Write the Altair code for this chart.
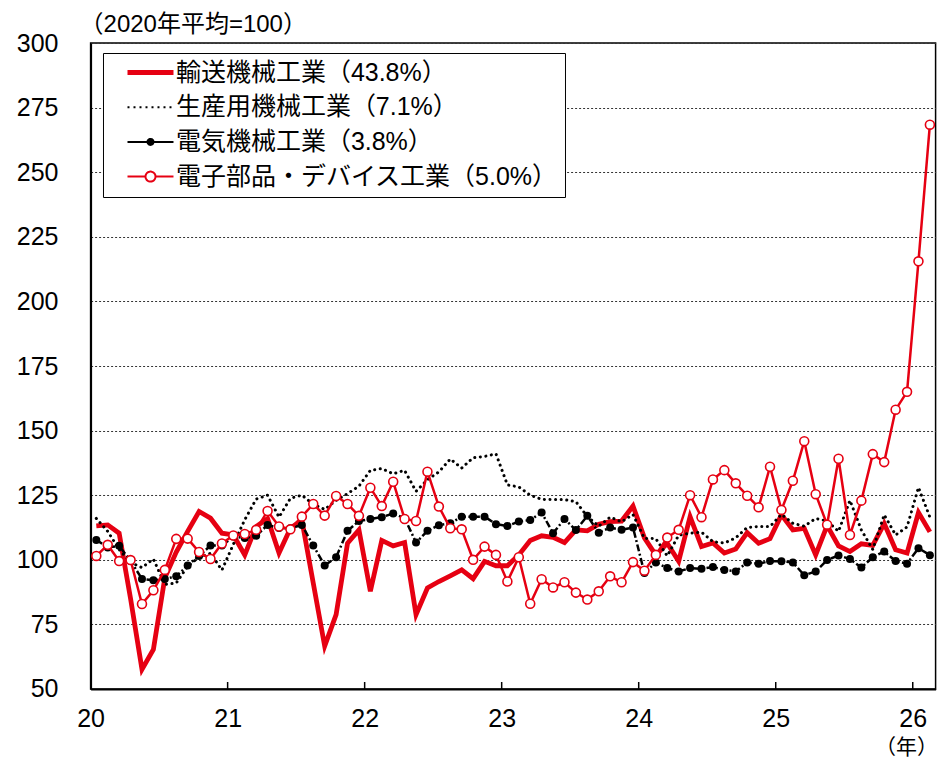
import altair as alt
import pandas as pd

# ---------------- data ----------------
YEARS = ["20", "21", "22", "23", "24", "25", "26"]
Y_TICKS = [50, 75, 100, 125, 150, 175, 200, 225, 250, 275, 300]
YEAR_BOUNDS = [12, 24, 36, 48, 60, 72]
SERIES = ["輸送機械工業（43.8%）", "生産用機械工業（7.1%）",
          "電気機械工業（3.8%）", "電子部品・デバイス工業（5.0%）"]

TRANSPORT = [
    113.1, 113.5, 110.3, 85.0, 57.6, 65.3, 93.0, 103.0, 111.0, 118.7, 116.1, 110.3,
    109.6, 101.9, 112.9, 116.0, 102.6, 112.2, 115.4, 91.0, 66.6, 78.8, 106.4, 111.6,
    87.8, 107.5, 105.4, 106.7, 78.8, 89.1, 91.6, 93.8, 96.1, 92.7, 99.4, 97.7,
    97.7, 101.9, 107.5, 109.3, 108.7, 106.7, 111.6, 111.2, 113.8, 114.8, 115.0, 120.8,
    108.5, 101.8, 106.4, 99.4, 116.7, 105.1, 106.5, 102.6, 104.2, 110.5, 106.4, 108.2,
    117.4, 111.6, 112.2, 101.9, 113.2, 105.4, 103.2, 106.2, 105.6, 114.0, 103.9, 102.6,
    118.3, 110.8,
]
PRODUCTION = [
    116.0, 111.0, 104.0, 99.0, 97.0, 100.3, 90.5, 91.0, 97.5, 101.0, 102.5, 96.0,
    106.0, 115.5, 123.5, 125.0, 116.5, 123.8, 125.0, 121.5, 119.5, 123.0, 125.6, 128.5,
    134.6, 135.3, 133.3, 134.6, 126.5, 131.0, 134.0, 139.0, 135.5, 139.5, 140.0, 141.0,
    129.0, 128.2, 125.0, 123.4, 123.3, 123.3, 122.5, 116.8, 113.0, 116.5, 114.7, 117.5,
    108.3, 108.2, 101.5, 109.5, 110.3, 110.7, 107.0, 106.5, 108.5, 112.5, 112.9, 112.9,
    117.6, 114.1, 113.0, 116.0, 115.0, 111.0, 123.0, 111.5, 104.0, 117.4, 109.6, 112.7,
    128.0, 116.5,
]
ELECTRICAL = [
    107.7, 104.8, 105.4, 99.6, 92.6, 92.1, 92.6, 93.6, 97.8, 101.5, 105.5, 105.5,
    109.0, 108.4, 109.3, 113.5, 112.3, 112.2, 113.5, 105.5, 97.8, 101.0, 111.2, 115.0,
    115.8, 116.5, 117.9, 116.1, 106.7, 111.2, 113.4, 114.1, 116.7, 116.7, 116.7, 113.8,
    113.1, 114.8, 115.4, 118.3, 110.3, 115.8, 111.5, 117.0, 110.5, 112.5, 111.6, 112.5,
    94.9, 99.0, 96.8, 95.5, 96.8, 96.5, 97.2, 96.1, 95.5, 99.0, 98.5, 99.5,
    99.4, 99.0, 94.0, 95.5, 99.9, 101.7, 100.3, 97.0, 101.0, 103.2, 99.5, 98.5,
    104.5, 101.8,
]
ELECTRONICS = [
    101.5, 105.8, 99.5, 99.9, 82.9, 88.2, 96.1, 108.1, 108.2, 103.0, 100.3, 106.3,
    109.4, 110.0, 111.6, 118.9, 112.9, 111.8, 116.7, 121.6, 117.1, 124.7, 121.6, 117.0,
    127.9, 120.8, 130.2, 115.8, 115.0, 134.1, 120.6, 112.2, 111.8, 100.0, 105.1, 101.9,
    91.6, 101.0, 83.0, 92.5, 89.3, 91.3, 87.3, 84.6, 87.8, 93.6, 91.3, 99.1,
    95.8, 101.9, 108.6, 111.6, 125.0, 116.5, 131.1, 134.7, 129.6, 124.8, 120.3, 136.0,
    119.3, 130.6, 145.9, 125.4, 113.6, 139.1, 109.6, 122.9, 140.9, 137.8, 158.1, 165.0,
    215.5, 268.4,
]

# ---------------- styling ----------------
RED = "#e60012"
FONT = "Liberation Sans, Noto Sans CJK JP"
W, H = 845, 646

# month index -> centre of month slot
MONTHS = [i + 0.5 for i in range(len(TRANSPORT))]


def frame(values):
    return pd.DataFrame({"m": MONTHS, "v": values})


x_enc = alt.X(
    "m:Q",
    scale=alt.Scale(domain=[0, len(TRANSPORT)], nice=False, zero=False),
    axis=alt.Axis(
        values=[0] + YEAR_BOUNDS,
        labelExpr=f"{YEARS}[round(datum.value / 12)]",
        labelFont=FONT, labelFontSize=25, labelColor="black",
        labelPadding=18, labelFlush=False, labelOverlap=False,
        ticks=False, tickSize=0, grid=False,
        domainColor="black", domainWidth=2,
        title="（年）", titleFont=FONT, titleFontSize=21,
        titleFontWeight="normal", titleColor="black",
        titleX=815.5, titleY=65, titleAlign="center", titleBaseline="alphabetic",
    ),
)
y_enc = alt.Y(
    "v:Q",
    scale=alt.Scale(domain=[50, 300], nice=False, zero=False),
    axis=alt.Axis(
        values=Y_TICKS,
        labelFont=FONT, labelFontSize=25, labelColor="black",
        labelPadding=32.6, labelFlush=False,
        ticks=False, tickSize=0,
        grid=True, gridColor="#333333", gridDash=[2, 2], gridWidth=1,
        domainColor="black", domainWidth=2, title=None,
    ),
)

l_transport = alt.Chart(frame(TRANSPORT)).mark_line(
    color=RED, strokeWidth=4.8
).encode(x=x_enc, y=y_enc)

l_prod = alt.Chart(frame(PRODUCTION)).mark_line(
    color="black", strokeWidth=3, strokeDash=[0.1, 5.5], strokeCap="round"
).encode(x=x_enc, y=y_enc)

l_elec = alt.Chart(frame(ELECTRICAL)).mark_line(
    color="black", strokeWidth=2.5, strokeDash=[7, 2.5, 2, 2.5]
).encode(x=x_enc, y=y_enc)
p_elec = alt.Chart(frame(ELECTRICAL)).mark_circle(
    color="black", size=64, opacity=1
).encode(x=x_enc, y=y_enc)

l_chip = alt.Chart(frame(ELECTRONICS)).mark_line(
    color=RED, strokeWidth=2.5
).encode(x=x_enc, y=y_enc)
p_chip = alt.Chart(frame(ELECTRONICS)).mark_circle(
    fill="white", stroke=RED, strokeWidth=1.6, size=80, opacity=1
).encode(x=x_enc, y=y_enc)

# inward year ticks on the bottom axis
year_ticks = alt.Chart(pd.DataFrame({"m": YEAR_BOUNDS})).mark_rule(
    color="black", strokeWidth=1.5
).encode(x=x_enc, y=alt.value(H - 7), y2=alt.value(H))

# legend (symbols drawn by the legend itself)
SHAPES = [
    "M-2.3,-0.15L2.3,-0.15M-2.3,0L2.3,0M-2.3,0.15L2.3,0.15",
    "M-2.3,0L2.3,0",
    "M-2.3,0L2.3,0M0.3,0A0.3,0.3,0,1,1,-0.3,0A0.3,0.3,0,1,1,0.3,0"
    "M0.13,0A0.13,0.13,0,1,1,-0.13,0A0.13,0.13,0,1,1,0.13,0",
    "M-2.3,0L-0.5,0M0.5,0L2.3,0M0.5,0A0.5,0.5,0,1,1,-0.5,0A0.5,0.5,0,1,1,0.5,0Z",
]
leg = alt.Legend(title=None, orient="none", legendX=12.4, legendY=10)
legend_layer = alt.Chart(pd.DataFrame({"s": SERIES})).transform_filter(
    "false"
).mark_point(filled=False, opacity=1, strokeWidth=2).encode(
    color=alt.Color("s:N", scale=alt.Scale(domain=SERIES, range=[RED, "black", "black", RED]), legend=leg),
    shape=alt.Shape("s:N", scale=alt.Scale(domain=SERIES, range=SHAPES), legend=leg),
    strokeDash=alt.StrokeDash("s:N", scale=alt.Scale(domain=SERIES, range=[[1, 0], [2, 4], [1, 0], [1, 0]]), legend=leg),
)

chart = alt.layer(
    l_transport, l_prod, l_elec, p_elec, l_chip, p_chip, year_ticks, legend_layer
).properties(
    width=W, height=H,
    autosize=alt.AutoSizeParams(type="none"),
    padding={"left": 82.6, "top": 35, "right": 2.3, "bottom": 70},
    title=alt.TitleParams(
        text="（2020年平均=100）", anchor="start", frame="group",
        font=FONT, fontSize=24, fontWeight="normal", color="black",
        offset=0, dx=-11, dy=6,
    ),
).configure_view(
    stroke="black", strokeWidth=1.5
).configure_legend(
    padding=7, rowPadding=8.7, symbolSize=400, symbolOffset=28, labelOffset=13,
    labelFont=FONT, labelFontSize=25, labelColor="black", labelLimit=600,
    strokeColor="black", fillColor="white", symbolStrokeWidth=2,
)

chart.save("out.html", embed_options={"renderer": "svg", "actions": False})
